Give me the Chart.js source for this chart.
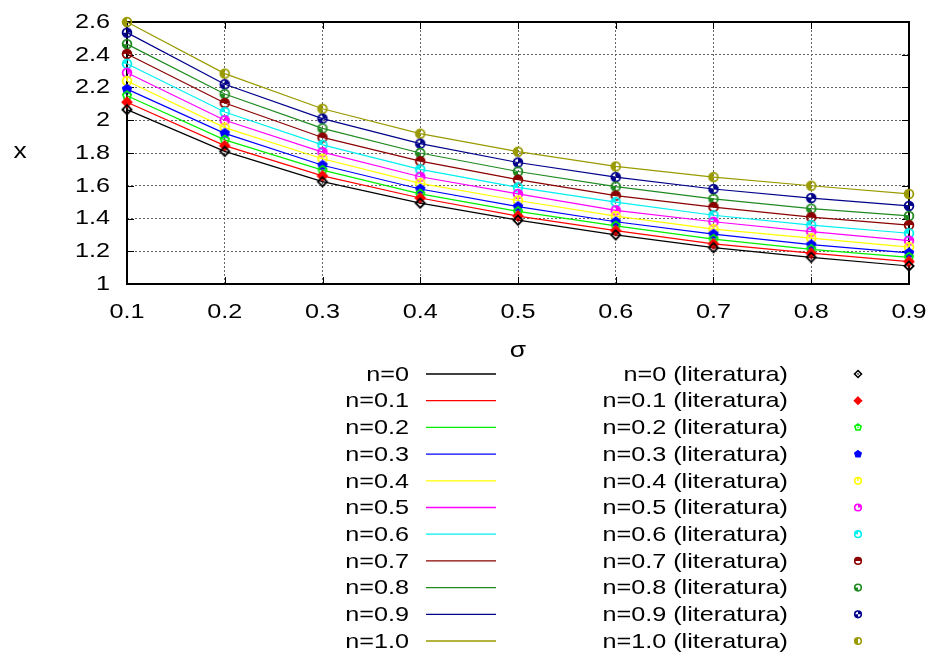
<!DOCTYPE html>
<html>
<head>
<meta charset="utf-8">
<script src="https://cdn.jsdelivr.net/npm/chart.js@4.4.0/dist/chart.umd.min.js"></script>
<style>
html,body{margin:0;padding:0;background:#fff}
#wrap{width:933px;height:654px}
</style>
</head>
<body>
<div id="wrap"><canvas id="c"></canvas></div>
<script>
// sigma values (x axis)
const sigma=[0.1,0.2,0.3,0.4,0.5,0.6,0.7,0.8,0.9];
const nLabels=['0','0.1','0.2','0.3','0.4','0.5','0.6','0.7','0.8','0.9','1.0'];
// x(sigma) for every n
const x_n00=[2.065,1.81,1.625,1.494,1.39,1.30,1.222,1.163,1.11];
const x_n01=[2.11,1.845,1.66,1.525,1.415,1.326,1.245,1.188,1.137];
const x_n02=[2.15,1.88,1.695,1.55,1.443,1.355,1.274,1.212,1.163];
const x_n03=[2.19,1.92,1.725,1.58,1.473,1.38,1.304,1.24,1.19];
const x_n04=[2.24,1.955,1.765,1.615,1.51,1.415,1.335,1.28,1.225];
const x_n05=[2.29,2.00,1.805,1.655,1.55,1.45,1.38,1.32,1.265];
const x_n06=[2.345,2.05,1.85,1.70,1.59,1.50,1.42,1.36,1.31];
const x_n07=[2.405,2.105,1.895,1.75,1.637,1.54,1.47,1.408,1.36];
const x_n08=[2.465,2.16,1.95,1.80,1.687,1.595,1.52,1.46,1.416];
const x_n09=[2.535,2.22,2.01,1.857,1.742,1.653,1.58,1.525,1.477];
const x_n10=[2.60,2.285,2.07,1.918,1.808,1.718,1.653,1.60,1.55];
const series=[x_n00,x_n01,x_n02,x_n03,x_n04,x_n05,x_n06,x_n07,x_n08,x_n09,x_n10];
const yTicks=[1,1.2,1.4,1.6,1.8,2,2.2,2.4,2.6];

const colors=['#000000','#ff0000','#00f000','#0000ff','#ffff00','#ff00ff','#00f0f0','#8b0000','#1f8a1f','#00008b','#9a9a00'];
// marker kinds: gnuplot style point types
const kinds=['diaOpen','diaFill','pentOpen','pentFill','c0','c1','c2','c3','c4','c5','c6'];
const FONT='"Liberation Sans", Arial, sans-serif';
const STRETCH=1.2; // the original text is drawn wider than normal

function wideText(ctx,str,x,y,align,size){
 ctx.save();
 ctx.font=size+'px '+FONT;ctx.fillStyle='#000';ctx.textAlign=align;ctx.textBaseline='middle';
 ctx.translate(x,y);ctx.scale(STRETCH,1);ctx.fillText(str,0,0);
 ctx.restore();
}
function poly(ctx,cx,cy,r,n,rot){
 ctx.beginPath();
 for(let i=0;i<n;i++){let a=rot+i*2*Math.PI/n;let px=cx+r*Math.cos(a),py=cy+r*Math.sin(a);i?ctx.lineTo(px,py):ctx.moveTo(px,py);}
 ctx.closePath();
}
function drawMarker(ctx,kind,col,cx,cy,r,lw){
 ctx.save();
 ctx.strokeStyle=col;ctx.fillStyle=col;ctx.lineWidth=lw;
 if(kind==='diaOpen'||kind==='diaFill'){
  poly(ctx,cx,cy,r*1.05,4,-Math.PI/2);
  if(kind==='diaFill')ctx.fill();
  ctx.stroke();
  if(kind==='diaOpen')ctx.fillRect(cx-0.7,cy-0.7,1.4,1.4);
 }else if(kind==='pentOpen'||kind==='pentFill'){
  poly(ctx,cx,cy,r,5,-Math.PI/2);
  if(kind==='pentFill')ctx.fill();
  ctx.stroke();
  if(kind==='pentOpen')ctx.fillRect(cx-0.7,cy-0.7,1.4,1.4);
 }else{
  let mask=+kind.slice(1);
  // quarters: bit0 top-right, bit1 top-left, bit2 bottom-left, bit3 bottom-right
  let q=[[-Math.PI/2,0],[-Math.PI,-Math.PI/2],[Math.PI/2,Math.PI],[0,Math.PI/2]];
  for(let b=0;b<4;b++){
   if(mask&(1<<b)){ctx.beginPath();ctx.moveTo(cx,cy);ctx.arc(cx,cy,r,q[b][0],q[b][1]);ctx.closePath();ctx.fill();}
  }
  ctx.beginPath();ctx.arc(cx,cy,r,0,2*Math.PI);ctx.stroke();
  if(mask===0){ctx.beginPath();ctx.moveTo(cx,cy);ctx.lineTo(cx,cy-r);ctx.stroke();}
 }
 ctx.restore();
}
function markerImage(kind,col){
 let cv=document.createElement('canvas');cv.width=14;cv.height=14;
 drawMarker(cv.getContext('2d'),kind,col,7,7,4.4,1.8);
 return cv;
}

let datasets=[];
series.forEach((vals,k)=>{
 datasets.push({label:'n='+nLabels[k]+' (literatura)',data:sigma.map((s,i)=>({x:s,y:vals[i]})),
  showLine:false,pointStyle:markerImage(kinds[k],colors[k]),pointRadius:6,pointHoverRadius:6,clip:false,order:0});
});
series.forEach((vals,k)=>{
 datasets.push({label:'n='+nLabels[k],data:sigma.map((s,i)=>({x:s,y:vals[i]})),
  borderColor:colors[k],borderWidth:1.2,pointRadius:0,fill:false,tension:0,clip:false,order:1});
});

const gnuFrame={
 id:'gnuFrame',
 beforeDatasetsDraw(chart){
  const {ctx,chartArea:a,scales}=chart;
  ctx.save();
  ctx.strokeStyle='#000';ctx.lineWidth=1;
  ctx.beginPath();
  sigma.forEach(s=>{let px=Math.round(scales.x.getPixelForValue(s))+0.5;
   ctx.moveTo(px,a.bottom);ctx.lineTo(px,a.bottom-7);ctx.moveTo(px,a.top);ctx.lineTo(px,a.top+7);});
  yTicks.forEach(v=>{let py=Math.round(scales.y.getPixelForValue(v))+0.5;
   ctx.moveTo(a.left,py);ctx.lineTo(a.left+7,py);ctx.moveTo(a.right,py);ctx.lineTo(a.right-7,py);});
  ctx.stroke();
  ctx.lineWidth=2;
  ctx.strokeRect(a.left,a.top,a.right-a.left,a.bottom-a.top);
  ctx.restore();
  // tick labels and axis titles
  sigma.forEach(s=>wideText(ctx,s.toFixed(1),scales.x.getPixelForValue(s),312,'center',21));
  yTicks.forEach(v=>wideText(ctx,String(v),110,scales.y.getPixelForValue(v),'right',21));
  wideText(ctx,'σ',(a.left+a.right)/2,351,'center',22);
  wideText(ctx,'x',20,(a.top+a.bottom)/2-1,'center',22);
 },
 afterDraw(chart){
  const ctx=chart.ctx;
  nLabels.forEach((lab,i)=>{
   let y=374+26.7*i;
   wideText(ctx,'n='+lab,409,y+1,'right',21);
   wideText(ctx,'n='+lab+' (literatura)',788,y+1,'right',21);
   ctx.save();
   ctx.strokeStyle=colors[i];ctx.lineWidth=1.3;
   ctx.beginPath();ctx.moveTo(426,y);ctx.lineTo(496,y);ctx.stroke();
   ctx.restore();
   drawMarker(ctx,kinds[i],colors[i],858,y,3.3,1.6);
  });
 }
};

Chart.defaults.font.family=FONT;
Chart.defaults.color='#000';
new Chart(document.getElementById('c'),{
 type:'line',
 data:{datasets:datasets},
 options:{
  responsive:true,maintainAspectRatio:false,animation:false,
  layout:{autoPadding:false,padding:{left:0,right:24,top:22,bottom:286}},
  plugins:{legend:{display:false},tooltip:{enabled:false}},
  scales:{
   x:{type:'linear',min:0.1,max:0.9,
    afterFit(s){s.height=84;},
    ticks:{stepSize:0.1,display:false},
    grid:{color:'#666',lineWidth:1,drawTicks:false},
    border:{display:false,dash:[2,2]}},
   y:{type:'linear',min:1,max:2.6,
    afterFit(s){s.width=127;},
    ticks:{stepSize:0.2,display:false},
    grid:{color:'#666',lineWidth:1,drawTicks:false},
    border:{display:false,dash:[2,2]}}
  }
 },
 plugins:[gnuFrame]
});
</script>
</body>
</html>
